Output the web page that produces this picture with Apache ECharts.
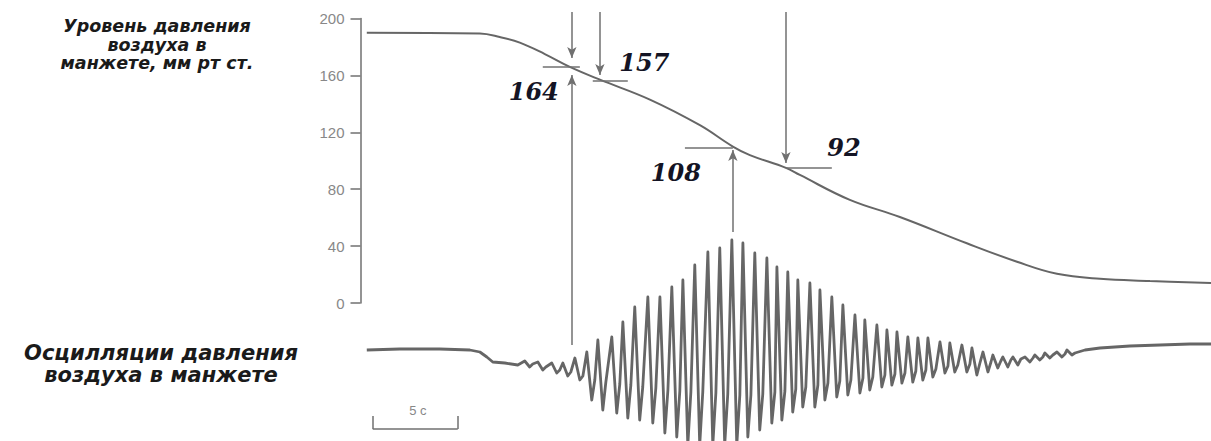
<!DOCTYPE html>
<html>
<head>
<meta charset="utf-8">
<script src="https://cdn.jsdelivr.net/npm/echarts@6/dist/echarts.min.js"></script>
<style>
  html, body { margin: 0; padding: 0; background: #fff; }
  #chart { width: 1211px; height: 441px; }
</style>
</head>
<body>
<div id="chart"></div>
<script>
// cuff pressure trace: time (s), pressure (mm Hg)
var pressT = [0, 6.65, 7.82, 9.0, 10.47, 11.94, 13.71, 16.65, 19.59, 21.53, 22.53, 24.65, 25.47, 28.41, 31.35, 35.29, 38.24, 40.59, 43.12, 46.06, 49.65];
var pressV = [190, 189.5, 187, 183, 175, 166, 157, 143, 125, 110, 104, 95, 90, 72.5, 60.5, 42, 29, 20.5, 17, 15.5, 14];

// oscillation trace (relative units): quiet part before / after the beats
var preT = [0, 1.94, 4.29, 6.06, 6.65, 7.06, 7.41, 8.12, 8.88];
var preV = [0, 1, 1, 0, -2, -7, -12, -13, -15];
var postT = [42.24, 43.12, 44.88, 46.65, 48.41, 49.65];
var postV = [0, 2, 4, 5, 6, 6];

// each beat: peak time, peak, trough, level of the band after the trough
var beatT = [9.29, 10.06, 10.88, 11.53, 12.24, 12.94, 13.59, 14.41, 15.06, 15.76, 16.53, 17.24, 17.94, 18.59, 19.29, 20.06, 20.76, 21.47, 22.12, 22.82, 23.53, 24.12, 24.76, 25.35, 26.06, 26.65, 27.35, 28.00, 28.71, 29.29, 30.00, 30.59, 31.18, 31.82, 32.41, 33.00, 33.71, 34.29, 35.00, 35.59, 36.24, 36.82, 37.41, 38.00, 38.71, 39.29, 39.88, 40.59, 41.18];
var beatPeak = [-11, -12, -13, -13, -8, -2, 10, 13, 28, 43, 53, 53, 63, 70, 85, 98, 102, 110, 107, 97, 92, 83, 78, 70, 67, 60, 53, 45, 35, 30, 25, 20, 18, 13, 12, 12, 8, 7, 5, 2, -2, -5, -7, -7, -7, -5, -3, -2, 0];
var beatTrough = [-17, -20, -23, -26, -30, -50, -60, -63, -68, -70, -73, -83, -87, -95, -95, -95, -95, -95, -87, -80, -73, -70, -62, -57, -57, -50, -47, -45, -43, -40, -37, -35, -33, -32, -30, -27, -23, -22, -22, -25, -22, -18, -17, -15, -12, -10, -8, -7, -5];
var beatBase = [-14, -17, -20, -22, -26, -30, -32, -34, -35, -37, -38, -40, -41, -42, -42, -43, -44, -45, -45, -44, -42, -41, -39, -37, -35, -33, -31, -30, -28, -27, -25, -24, -23, -21, -20, -19, -16, -15, -14, -13, -12, -11, -10, -9, -8, -7, -5, -4, -3];

// annotations (mm Hg readings)
var annoLabels = ['164', '157', '108', '92'];
var levelV = [166.3, 156.3, 109.2, 94.9];
var levelFrom = [10.35, 13.29, 18.71, 24.65];
var levelTo = [12.53, 15.35, 21.53, 27.35];
var labelT = [9.82, 16.32, 18.18, 28.06];
var labelV = [149, 169.4, 91.4, 109.1];
var downT = [12.06, 13.71, 24.65];
var downTip = [172.2, 160.3, 98.4];
var upT = [12.06, 21.53];
var upFrom = [-29.5, 49.9];
var upTip = [160.3, 107.6];

var X_MIN = -0.37, X_MAX = 49.65, TOP_V = 204.6;
var GREY = '#666';

var pressData = pressT.map(function (t, i) { return [t, pressV[i]]; });

var oscData = [];
preT.forEach(function (t, i) { oscData.push([t, preV[i]]); });
beatT.forEach(function (t, i) {
  oscData.push([t, beatPeak[i]]);
  oscData.push([t + 0.29, beatTrough[i]]);
  oscData.push([t + 0.47, beatBase[i]]);
});
postT.forEach(function (t, i) { oscData.push([t, postV[i]]); });

var pressMarks = [];
levelV.forEach(function (v, i) {
  pressMarks.push([{ coord: [levelFrom[i], v], symbol: 'none' }, { coord: [levelTo[i], v], symbol: 'none' }]);
});
downT.forEach(function (t, i) {
  pressMarks.push([{ coord: [t, TOP_V], symbol: 'none' }, { coord: [t, downTip[i]], symbol: 'arrow' }]);
});
upT.forEach(function (t, i) {
  pressMarks.push([{ coord: [t, upFrom[i]], symbol: 'none' }, { coord: [t, upTip[i]], symbol: 'arrow' }]);
});

var labelMarks = annoLabels.map(function (s, i) {
  return { coord: [labelT[i], labelV[i]], value: s };
});

// 5 s scale bar under the oscillation trace
var barFrom = 0.35, barLen = 5, barLow = -79, barHigh = -66;
var barMarks = [
  [{ coord: [barFrom, barLow], symbol: 'none' }, { coord: [barFrom + barLen, barLow], symbol: 'none' }],
  [{ coord: [barFrom, barLow], symbol: 'none' }, { coord: [barFrom, barHigh], symbol: 'none' }],
  [{ coord: [barFrom + barLen, barLow], symbol: 'none' }, { coord: [barFrom + barLen, barHigh], symbol: 'none' }]
];

var myChart = echarts.init(document.getElementById('chart'), null, { renderer: 'svg' });
var option = {
  animation: false,
  backgroundColor: '#fff',
  title: [
    {
      text: 'Уровень давления\nвоздуха в\nманжете, мм рт ст.',
      left: 152, top: 12, textAlign: 'center',
      textStyle: { fontFamily: 'DejaVu Sans', fontStyle: 'italic', fontWeight: 'bold', fontSize: 17.5, lineHeight: 18.5, color: '#1a1a1a' }
    },
    {
      text: 'Осцилляции давления\nвоздуха в манжете',
      left: 156, top: 337, textAlign: 'center',
      textStyle: { fontFamily: 'DejaVu Sans', fontStyle: 'italic', fontWeight: 'bold', fontSize: 21, lineHeight: 22, color: '#1a1a1a' }
    }
  ],
  grid: [
    { left: 360.5, right: 0, top: 0, bottom: 0 },
    // visible pressure scale, 0..200 mm Hg
    { left: 360.5, width: 20, top: 18.5, height: 284.5 }
  ],
  xAxis: [
    { type: 'value', min: X_MIN, max: X_MAX, show: false, gridIndex: 0 },
    { type: 'value', min: 0, max: 1, show: false, gridIndex: 1 }
  ],
  yAxis: [
    { type: 'value', min: -97, max: 213, show: false, gridIndex: 0 },
    { type: 'value', min: -91, max: 350, show: false, gridIndex: 0 },
    {
      type: 'value', gridIndex: 1, min: 0, max: 200, interval: 40, position: 'left',
      axisLine: { show: true, onZero: false, lineStyle: { color: '#707070', width: 1.5 } },
      splitLine: { show: false },
      axisTick: { show: true, length: 10, lineStyle: { color: '#707070', width: 1.5 } },
      axisLabel: { show: true, color: '#888', fontSize: 15, fontFamily: 'Liberation Sans', margin: 16 }
    }
  ],
  series: [
    {
      name: 'pressure',
      type: 'line',
      data: pressData,
      smooth: 0.4,
      showSymbol: false,
      silent: true,
      lineStyle: { color: GREY, width: 2 },
      markLine: {
        silent: true,
        symbolSize: [7, 11],
        label: { show: false },
        lineStyle: { type: 'solid', color: '#707070', width: 1.5 },
        emphasis: { disabled: true },
        data: pressMarks
      },
      markPoint: {
        silent: true,
        symbol: 'circle',
        symbolSize: 0,
        label: {
          show: true, position: 'inside', formatter: '{c}',
          fontFamily: 'DejaVu Serif', fontStyle: 'italic', fontWeight: 'bold', fontSize: 24, color: '#141424'
        },
        data: labelMarks
      }
    },
    {
      name: 'oscillation',
      type: 'line',
      yAxisIndex: 1,
      data: oscData,
      showSymbol: false,
      silent: true,
      sampling: null,
      lineStyle: { color: GREY, width: 2.8, join: 'round' },
      markLine: {
        silent: true,
        label: { show: false },
        lineStyle: { type: 'solid', color: '#707070', width: 1.5 },
        emphasis: { disabled: true },
        data: barMarks
      },
      markPoint: {
        silent: true,
        symbol: 'circle',
        symbolSize: 0,
        label: { show: true, position: 'inside', formatter: '{c}', fontFamily: 'Liberation Sans', fontSize: 13, color: '#888' },
        data: [{ coord: [barFrom + barLen / 2 + 0.15, -60], value: '5 с' }]
      }
    }
  ]
};
myChart.setOption(option);
</script>
</body>
</html>
